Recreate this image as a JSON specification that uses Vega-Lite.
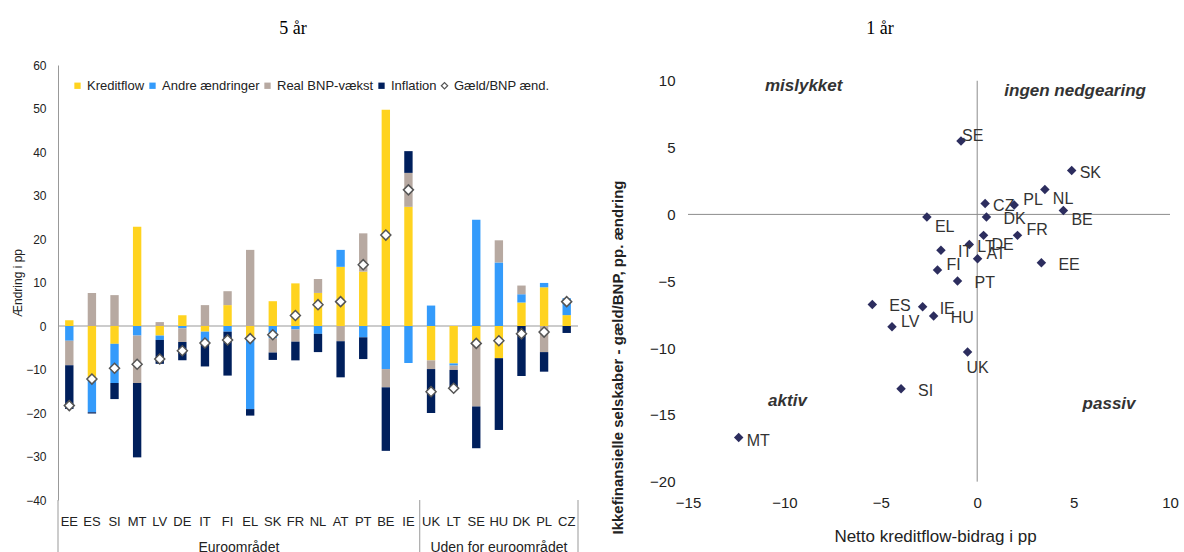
{
  "$schema": "https://vega.github.io/schema/vega-lite/v6.json",
  "padding": {"left": 11, "top": 20, "right": 0, "bottom": 0},
  "background": "white",
  "spacing": 31,
  "config": {
    "font": "Liberation Sans",
    "view": {"stroke": null},
    "axis": {"labelColor": "#222222", "titleColor": "#222222", "grid": false, "ticks": false, "labelFont": "Liberation Sans", "titleFont": "Liberation Sans", "labelFlush": false},
    "title": {"font": "Liberation Serif", "fontSize": 18, "fontWeight": "normal", "color": "#000000"}
  },
  "datasets": {
    "left": [
      {"c": "EE", "kr": 1.3, "an": -3.4, "rb": -5.6, "inf": -10.1, "g": -18.3},
      {"c": "ES", "kr": -12.2, "an": -7.6, "rb": 7.6, "inf": -0.3, "g": -12.2},
      {"c": "SI", "kr": -4.1, "an": -9.0, "rb": 7.1, "inf": -3.7, "g": -9.7},
      {"c": "MT", "kr": 22.8, "an": -2.2, "rb": -10.9, "inf": -17.1, "g": -8.8},
      {"c": "LV", "kr": -2.2, "an": -1.0, "rb": 0.9, "inf": -5.5, "g": -7.6},
      {"c": "DE", "kr": 2.5, "an": -0.5, "rb": -3.2, "inf": -4.2, "g": -5.7},
      {"c": "IT", "kr": -1.3, "an": -2.4, "rb": 4.8, "inf": -5.6, "g": -3.9},
      {"c": "FI", "kr": 4.8, "an": -1.3, "rb": 3.2, "inf": -10.1, "g": -3.2},
      {"c": "EL", "kr": -3.0, "an": -16.1, "rb": 17.5, "inf": -1.5, "g": -2.9},
      {"c": "SK", "kr": 5.7, "an": -2.8, "rb": -3.3, "inf": -1.7, "g": -2.0},
      {"c": "FR", "kr": 9.8, "an": -0.8, "rb": -2.8, "inf": -4.3, "g": 2.4},
      {"c": "NL", "kr": 7.6, "an": -1.8, "rb": 3.2, "inf": -4.2, "g": 4.9},
      {"c": "AT", "kr": 13.6, "an": 3.9, "rb": -3.5, "inf": -8.3, "g": 5.6},
      {"c": "PT", "kr": 12.5, "an": -2.6, "rb": 8.8, "inf": -5.0, "g": 14.1},
      {"c": "BE", "kr": 49.7, "an": -9.9, "rb": -4.2, "inf": -14.6, "g": 20.9},
      {"c": "IE", "kr": 27.4, "an": -8.5, "rb": 7.8, "inf": 5.0, "g": 31.3},
      {"c": "UK", "kr": -7.9, "an": 4.7, "rb": -2.0, "inf": -10.1, "g": -15.1},
      {"c": "LT", "kr": -8.6, "an": -0.5, "rb": -1.0, "inf": -4.0, "g": -14.3},
      {"c": "SE", "kr": -3.5, "an": 24.4, "rb": -15.0, "inf": -9.6, "g": -4.0},
      {"c": "HU", "kr": -7.4, "an": 14.6, "rb": 5.1, "inf": -16.5, "g": -3.4},
      {"c": "DK", "kr": 5.4, "an": 1.9, "rb": 2.0, "inf": -11.5, "g": -1.8},
      {"c": "PL", "kr": 8.9, "an": 1.0, "rb": -6.0, "inf": -4.5, "g": -1.4},
      {"c": "CZ", "kr": 2.5, "an": 3.9, "rb": 0, "inf": -1.6, "g": 5.6}
    ],
    "right": [
      {"c": "SE", "x": -0.84, "y": 5.49},
      {"c": "SK", "x": 4.9, "y": 3.29},
      {"c": "NL", "x": 3.51, "y": 1.87},
      {"c": "PL", "x": 1.92, "y": 0.7},
      {"c": "CZ", "x": 0.41, "y": 0.82},
      {"c": "BE", "x": 4.47, "y": 0.3},
      {"c": "DK", "x": 0.48, "y": -0.2},
      {"c": "EL", "x": -2.61, "y": -0.2},
      {"c": "FR", "x": 2.09, "y": -1.57},
      {"c": "DE", "x": 0.33, "y": -1.57},
      {"c": "LT", "x": -0.41, "y": -2.25},
      {"c": "AT", "x": 0.02, "y": -3.32},
      {"c": "IT", "x": -1.88, "y": -2.69},
      {"c": "EE", "x": 3.33, "y": -3.62},
      {"c": "FI", "x": -2.06, "y": -4.17},
      {"c": "PT", "x": -1.02, "y": -4.99},
      {"c": "ES", "x": -5.44, "y": -6.74},
      {"c": "IE", "x": -2.83, "y": -6.91},
      {"c": "HU", "x": -2.26, "y": -7.61},
      {"c": "LV", "x": -4.42, "y": -8.41},
      {"c": "UK", "x": -0.5, "y": -10.3},
      {"c": "SI", "x": -3.95, "y": -13.05},
      {"c": "MT", "x": -12.37, "y": -16.7}
    ]
  },
  "hconcat": [
    {
      "width": 520,
      "height": 435,
      "title": {"text": "5 år", "anchor": "middle", "frame": "group", "dx": -25, "offset": 21},
      "layer": [
        {
          "data": {"values": [{}]},
          "mark": {"type": "rule", "color": "#999999", "strokeWidth": 1},
          "encoding": {"y": {"datum": 0, "type": "quantitative", "scale": {"domain": [-40, 60], "nice": false}}}
        },
        {
          "data": {"name": "left"},
          "transform": [
            {"fold": ["kr", "an", "rb", "inf"], "as": ["key", "v"]},
            {"lookup": "key", "from": {"data": {"values": [
              {"key": "kr", "n": 1, "name": "Kreditflow"},
              {"key": "an", "n": 2, "name": "Andre ændringer"},
              {"key": "rb", "n": 3, "name": "Real BNP-vækst"},
              {"key": "inf", "n": 4, "name": "Inflation"}
            ]}, "key": "key", "fields": ["n", "name"]}}
          ],
          "mark": {"type": "bar", "width": {"band": 0.37}},
          "encoding": {
            "x": {"field": "c", "type": "nominal", "sort": null,
              "scale": {"domain": ["EE","ES","SI","MT","LV","DE","IT","FI","EL","SK","FR","NL","AT","PT","BE","IE","UK","LT","SE","HU","DK","PL","CZ"], "paddingInner": 0, "paddingOuter": 0},
              "axis": {"title": null, "labelAngle": 0, "domain": false, "labelFontSize": 13, "labelPadding": 15}},
            "y": {"field": "v", "type": "quantitative", "stack": "zero",
              "scale": {"domain": [-40, 60], "nice": false},
              "axis": {"values": [-40, -30, -20, -10, 0, 10, 20, 30, 40, 50, 60], "title": "Ændring i pp", "titleFontSize": 12, "titleFontWeight": "normal", "titlePadding": 1, "labelFontSize": 12, "labelPadding": 12, "domainColor": "#999999"}},
            "color": {"field": "name", "type": "nominal",
              "scale": {"domain": ["Kreditflow", "Andre ændringer", "Real BNP-vækst", "Inflation", "Gæld/BNP ænd."], "range": ["#FFD31F", "#349BFB", "#B7A9A1", "#001F5C", "#FFFFFF"]},
              "legend": {"orient": "none", "legendX": 13, "legendY": 14, "direction": "horizontal", "columns": 5, "title": null,
                "symbolType": "square", "symbolSize": 40, "labelFontSize": 13, "labelFont": "Liberation Sans", "labelColor": "#222222",
                "columnPadding": 1, "labelOffset": 3, "symbolStrokeWidth": 0,
                "encode": {"symbols": {"update": {
                  "shape": {"signal": "datum.value === 'Gæld/BNP ænd.' ? 'diamond' : 'square'"},
                  "stroke": {"signal": "datum.value === 'Gæld/BNP ænd.' ? '#555555' : 'transparent'"},
                  "strokeWidth": {"value": 1.2}
                }}}}},
            "order": {"field": "n", "type": "quantitative"}
          }
        },
        {
          "data": {"name": "left"},
          "mark": {"type": "point", "shape": "diamond", "filled": true, "fill": "#FFFFFF", "stroke": "#555555", "strokeWidth": 1.5, "size": 100, "opacity": 1},
          "encoding": {
            "x": {"field": "c", "type": "nominal", "sort": null,
              "scale": {"domain": ["EE","ES","SI","MT","LV","DE","IT","FI","EL","SK","FR","NL","AT","PT","BE","IE","UK","LT","SE","HU","DK","PL","CZ"], "paddingInner": 0, "paddingOuter": 0},
              "axis": {"title": null, "labelAngle": 0, "domain": false, "labelFontSize": 13, "labelPadding": 15}},
            "y": {"field": "g", "type": "quantitative",
              "scale": {"domain": [-40, 60], "nice": false},
              "axis": {"values": [-40, -30, -20, -10, 0, 10, 20, 30, 40, 50, 60], "title": "Ændring i pp", "titleFontSize": 12, "titleFontWeight": "normal", "titlePadding": 1, "labelFontSize": 12, "labelPadding": 12, "domainColor": "#999999"}}
          }
        },
        {
          "data": {"values": [{"c": "EE"}, {"c": "UK"}]},
          "mark": {"type": "rule", "color": "#999999", "strokeWidth": 1},
          "encoding": {
            "x": {"field": "c", "type": "nominal", "bandPosition": 0},
            "y": {"datum": -40, "type": "quantitative"},
            "y2": {"datum": -52}
          }
        },
        {
          "data": {"values": [{"c": "CZ"}]},
          "mark": {"type": "rule", "color": "#999999", "strokeWidth": 1},
          "encoding": {
            "x": {"field": "c", "type": "nominal", "bandPosition": 1},
            "y": {"datum": -40, "type": "quantitative"},
            "y2": {"datum": -52}
          }
        },
        {
          "data": {"values": [{"c": "EL", "t": "Euroområdet"}]},
          "mark": {"type": "text", "fontSize": 14, "color": "#222222", "baseline": "middle", "align": "center"},
          "encoding": {
            "x": {"field": "c", "type": "nominal", "bandPosition": 0},
            "y": {"datum": -51.1, "type": "quantitative"},
            "text": {"field": "t"}
          }
        },
        {
          "data": {"values": [{"c": "HU", "t": "Uden for euroområdet"}]},
          "mark": {"type": "text", "fontSize": 14, "color": "#222222", "baseline": "middle", "align": "center"},
          "encoding": {
            "x": {"field": "c", "type": "nominal", "bandPosition": 0.5},
            "y": {"datum": -51.1, "type": "quantitative"},
            "text": {"field": "t"}
          }
        }
      ]
    },
    {
      "width": 482,
      "height": 426,
      "title": {"text": "1 år", "anchor": "middle", "frame": "group", "dx": -49, "offset": 27},
      "layer": [
        {
          "data": {"values": [{}]},
          "mark": {"type": "rule", "color": "#8C8C8C", "strokeWidth": 1},
          "encoding": {"x": {"datum": -15, "type": "quantitative"}, "x2": {"datum": 10}, "y": {"datum": 0, "type": "quantitative"}}
        },
        {
          "data": {"values": [{}]},
          "mark": {"type": "rule", "color": "#8C8C8C", "strokeWidth": 1},
          "encoding": {"x": {"datum": 0, "type": "quantitative"}, "y": {"datum": -20, "type": "quantitative"}, "y2": {"datum": 10}}
        },
        {
          "data": {"name": "right"},
          "encoding": {
            "x": {"field": "x", "type": "quantitative",
              "scale": {"domain": [-15, 10], "nice": false, "zero": false},
              "axis": {"values": [-15, -10, -5, 0, 5, 10], "domain": false, "labelFontSize": 15, "labelPadding": 4, "labelFlush": false, "title": "Netto kreditflow-bidrag i pp", "titleFontSize": 17, "titleFontWeight": "normal", "titlePadding": 18, "titleX": 247}},
            "y": {"field": "y", "type": "quantitative",
              "scale": {"domain": [-20.7, 11.18], "nice": false, "zero": false},
              "axis": {"values": [-20, -15, -10, -5, 0, 5, 10], "domain": false, "labelFontSize": 15, "labelPadding": 13, "labelFlush": false, "title": "Ikkefinansielle selskaber - gæld/BNP, pp. ændring", "titleFontSize": 15, "titleFontWeight": "bold", "titlePadding": 24, "titleY": 292}}
          },
          "layer": [
            {"mark": {"type": "point", "shape": "diamond", "filled": true, "color": "#2C2D5E", "size": 90, "opacity": 1}},
            {"transform": [{"filter": {"field": "c", "oneOf": ["SK", "CZ", "LT", "MT"]}}],
             "mark": {"type": "text", "align": "left", "baseline": "middle", "dx": 8, "dy": 3, "fontSize": 16, "color": "#333333"},
             "encoding": {"text": {"field": "c"}}},
            {"transform": [{"filter": {"field": "c", "oneOf": ["DK", "IT", "EE", "PT", "ES", "IE", "HU", "SI"]}}],
             "mark": {"type": "text", "align": "left", "baseline": "middle", "dx": 17, "dy": 2, "fontSize": 16, "color": "#333333"},
             "encoding": {"text": {"field": "c"}}},
            {"transform": [{"filter": {"field": "c", "oneOf": ["NL", "BE", "EL", "DE"]}}],
             "mark": {"type": "text", "align": "left", "baseline": "middle", "dx": 8, "dy": 10, "fontSize": 16, "color": "#333333"},
             "encoding": {"text": {"field": "c"}}},
            {"transform": [{"filter": {"field": "c", "oneOf": ["PL", "FR", "AT", "FI", "LV"]}}],
             "mark": {"type": "text", "align": "left", "baseline": "middle", "dx": 9, "dy": -5, "fontSize": 16, "color": "#333333"},
             "encoding": {"text": {"field": "c"}}},
            {"transform": [{"filter": {"field": "c", "oneOf": ["UK"]}}],
             "mark": {"type": "text", "align": "left", "baseline": "middle", "dx": -1, "dy": 16, "fontSize": 16, "color": "#333333"},
             "encoding": {"text": {"field": "c"}}},
            {"transform": [{"filter": {"field": "c", "oneOf": ["SE"]}}],
             "mark": {"type": "text", "align": "left", "baseline": "middle", "dx": 1, "dy": -5, "fontSize": 16, "color": "#333333"},
             "encoding": {"text": {"field": "c"}}},
            {"data": {"values": [
              {"q": "mislykket", "x": -9.0, "y": 9.58},
              {"q": "ingen nedgearing", "x": 5.08, "y": 9.2},
              {"q": "aktiv", "x": -9.84, "y": -13.97},
              {"q": "passiv", "x": 6.84, "y": -14.17}
            ]},
             "mark": {"type": "text", "align": "center", "baseline": "middle", "fontSize": 17, "fontWeight": "bold", "fontStyle": "italic", "color": "#333333"},
             "encoding": {"text": {"field": "q"}}}
          ]
        }
      ]
    }
  ]
}
